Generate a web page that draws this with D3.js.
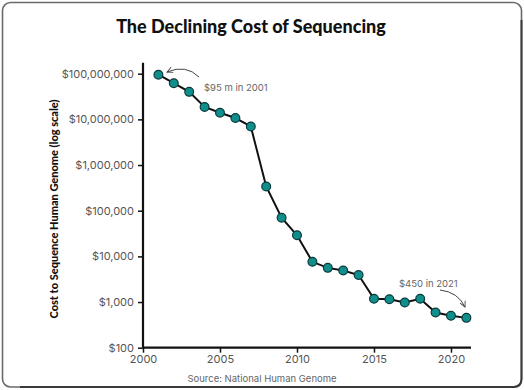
<!DOCTYPE html>
<html><head><meta charset="utf-8">
<script src="https://cdn.jsdelivr.net/npm/d3@7/dist/d3.min.js"></script>
<style>
html,body{margin:0;padding:0;background:#fff;}
svg{display:block;}
</style></head>
<body>
<svg id="c" width="524" height="390"></svg>
<script>
const years = [2001,2002,2003,2004,2005,2006,2007,2008,2009,2010,2011,2012,2013,2014,2015,2016,2017,2018,2019,2020,2021];
const costs = [95000000,62000000,40000000,18700000,14000000,10700000,7000000,340000,70000,29000,7600,5600,4900,3900,1180,1150,980,1180,590,500,450];
const yTicks = [100,1000,10000,100000,1000000,10000000,100000000];
const xTicks = [2000,2005,2010,2015,2020];
const title = "The Declining Cost of Sequencing";
const yTitle = "Cost to Sequence Human Genome (log scale)";
const source = "Source: National Human Genome";
const note1 = "$95 m in 2001";
const note2 = "$450 in 2021";

const svg = d3.select("#c");
// frame
svg.append("rect").attr("x",2.5).attr("y",2.5).attr("width",519).attr("height",384.5)
  .attr("rx",8).attr("fill","#fff").attr("stroke","#6a6a6a").attr("stroke-width",1.6);
svg.append("path").attr("d","M521.5,20 L521.5,379 Q521.5,387 513.5,387 L20,387")
  .attr("fill","none").attr("stroke","#3a3a3a").attr("stroke-width",2);

const x = d3.scaleLinear().domain([2000,2021.3]).range([143,471]);
const y = d3.scaleLog().domain([100,100000000]).range([347.7,73.7]);

svg.append("text").attr("x",251).attr("y",33).attr("text-anchor","middle")
  .attr("font-family","Lato, sans-serif").attr("font-weight",900).attr("font-size",18)
  .attr("fill","#111").text(title);

const fmt = d3.format(",");
const yAxis = svg.append("g").attr("transform","translate(143,0)")
  .call(d3.axisLeft(y).tickValues(yTicks).tickFormat(d=>"$"+fmt(d)).tickSize(5).tickPadding(4));
yAxis.select(".domain").attr("d","M0,62.7V347.7").attr("stroke","#111").attr("stroke-width",2.2);
yAxis.selectAll(".tick line").attr("stroke","#111").attr("stroke-width",1.5);
yAxis.selectAll(".tick text").attr("font-family","Inter, sans-serif").attr("font-size",11).attr("fill","#555");

const xAxis = svg.append("g").attr("transform","translate(0,347.7)")
  .call(d3.axisBottom(x).tickValues(xTicks).tickFormat(d3.format("d")).tickSize(5).tickPadding(3));
xAxis.select(".domain").attr("d","M143,0H471").attr("stroke","#111").attr("stroke-width",2.2);
xAxis.selectAll(".tick line").attr("stroke","#111").attr("stroke-width",1.5);
xAxis.selectAll(".tick text").attr("font-family","Inter, sans-serif").attr("font-size",11).attr("fill","#555");

svg.append("text").attr("transform","translate(58,209) rotate(-90)").attr("text-anchor","middle")
  .attr("font-family","Lato, sans-serif").attr("font-weight",900).attr("font-size",11)
  .attr("fill","#111").text(yTitle);

svg.append("text").attr("x",262).attr("y",382).attr("text-anchor","middle")
  .attr("font-family","Inter, sans-serif").attr("font-size",9.5).attr("fill","#666").text(source);

const data = years.map((yr,i)=>({yr, c:costs[i]}));
svg.append("path").datum(data)
  .attr("d", d3.line().x(d=>x(d.yr)).y(d=>y(d.c)))
  .attr("fill","none").attr("stroke","#111").attr("stroke-width",2);
svg.selectAll("circle.pt").data(data).join("circle").attr("class","pt")
  .attr("cx",d=>x(d.yr)).attr("cy",d=>y(d.c)).attr("r",4.4)
  .attr("fill","#0f8e8c").attr("stroke","#0b3a3a").attr("stroke-width",1.2);

// annotations
svg.append("text").attr("x",204).attr("y",91).attr("font-family","Inter, sans-serif")
  .attr("font-size",9.5).attr("fill","#666").text(note1);
svg.append("text").attr("x",399).attr("y",287).attr("font-family","Inter, sans-serif")
  .attr("font-size",9.5).attr("fill","#666").text(note2);

const defs = svg.append("defs");
defs.append("marker").attr("id","ah").attr("viewBox","0 0 10 10").attr("refX",9).attr("refY",5)
  .attr("markerWidth",7).attr("markerHeight",7).attr("orient","auto-start-reverse")
  .append("path").attr("d","M1,1 L9,5 L1,9").attr("fill","none").attr("stroke","#444").attr("stroke-width",1.3);
svg.append("path").attr("d","M199,77 Q186,64 167,72").attr("fill","none").attr("stroke","#444")
  .attr("stroke-width",1).attr("marker-end","url(#ah)");
svg.append("path").attr("d","M440,290 Q458,292 465,307").attr("fill","none").attr("stroke","#444")
  .attr("stroke-width",1).attr("marker-end","url(#ah)");
</script>
</body></html>
